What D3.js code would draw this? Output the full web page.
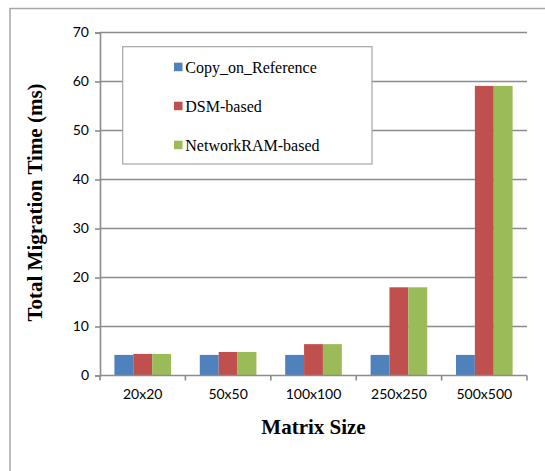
<!DOCTYPE html>
<html>
<head>
<meta charset="utf-8">
<script src="https://cdn.jsdelivr.net/npm/d3@7"></script>
<style>
  body { margin: 0; background: #fff; }
</style>
</head>
<body>
<div id="chart"></div>
<script>
var categories = ["20x20", "50x50", "100x100", "250x250", "500x500"];
var seriesNames = ["Copy_on_Reference", "DSM-based", "NetworkRAM-based"];
var copyOnRef = [4.2, 4.2, 4.2, 4.2, 4.2];
var dsmBased = [4.4, 4.8, 6.4, 18.0, 59.1];
var networkRam = [4.4, 4.8, 6.4, 18.0, 59.1];
var yTicks = [0, 10, 20, 30, 40, 50, 60, 70];

var colors = ["#4F81BD", "#C0504D", "#9BBB59"];
var values = [copyOnRef, dsmBased, networkRam];

var w = 545, h = 471;
var svg = d3.select("#chart").append("svg")
    .attr("width", w)
    .attr("height", h);

// outer frame (cut off at right and bottom)
svg.append("rect")
    .attr("x", 10).attr("y", 8.5)
    .attr("width", 560).attr("height", 500)
    .attr("fill", "none")
    .attr("stroke", "#a6a6a6")
    .attr("stroke-width", 1.5);

var x = d3.scaleBand()
    .domain(categories)
    .range([100, 527])
    .paddingInner(0.337)
    .paddingOuter(0.1685);

var xInner = d3.scaleBand()
    .domain(seriesNames)
    .range([0, x.bandwidth()]);

var y = d3.scaleLinear()
    .domain([0, 70])
    .range([375.5, 32.5]);

// gridlines
svg.append("g")
    .selectAll("line")
    .data(yTicks.slice(1))
    .enter()
    .append("line")
    .attr("x1", 100).attr("x2", 527)
    .attr("y1", d => y(d)).attr("y2", d => y(d))
    .attr("stroke", "#8c8c8c")
    .attr("stroke-width", 1.6);

// y axis
var yAxis = svg.append("g")
    .attr("transform", "translate(100,0)")
    .call(d3.axisLeft(y).tickValues(yTicks).tickSize(5).tickPadding(6));
yAxis.select(".domain").attr("stroke", "#8c8c8c").attr("stroke-width", 1.6);
yAxis.selectAll(".tick line").attr("stroke", "#8c8c8c").attr("stroke-width", 1.6);
yAxis.selectAll(".tick text")
    .style("font-family", "Lato, 'Open Sans', sans-serif")
    .style("font-size", "14px")
    .attr("fill", "#000");

// bars
var groups = svg.append("g")
    .selectAll("g")
    .data(categories)
    .enter()
    .append("g")
    .attr("transform", d => `translate(${x(d)},0)`);

groups.selectAll("rect")
    .data((c, i) => seriesNames.map((s, j) => ({ s: s, v: values[j][i], color: colors[j] })))
    .enter()
    .append("rect")
    .attr("x", d => xInner(d.s))
    .attr("width", xInner.bandwidth())
    .attr("y", d => y(d.v))
    .attr("height", d => y(0) - y(d.v))
    .attr("fill", d => d.color);

// x axis
var xAxis = svg.append("g")
    .attr("transform", `translate(0,${y(0)})`)
    .call(d3.axisBottom(x).tickSize(0).tickPadding(14));
xAxis.select(".domain").remove();
xAxis.selectAll(".tick text")
    .style("font-family", "Lato, 'Open Sans', sans-serif")
    .style("font-size", "14px")
    .attr("fill", "#000");

svg.append("line")
    .attr("x1", 100).attr("x2", 527)
    .attr("y1", y(0)).attr("y2", y(0))
    .attr("stroke", "#8c8c8c")
    .attr("stroke-width", 1.6);

var boundaries = d3.range(categories.length + 1).map(i => x.range()[0] + i * x.step());
svg.append("g")
    .selectAll("line")
    .data(boundaries)
    .enter()
    .append("line")
    .attr("x1", d => d).attr("x2", d => d)
    .attr("y1", y(0)).attr("y2", y(0) + 5)
    .attr("stroke", "#8c8c8c")
    .attr("stroke-width", 1.6);

// axis titles
svg.append("text")
    .attr("x", 313.5)
    .attr("y", 434)
    .attr("text-anchor", "middle")
    .style("font-family", "'Liberation Serif', 'Times New Roman', serif")
    .style("font-weight", "bold")
    .style("font-size", "21px")
    .text("Matrix Size");

svg.append("text")
    .attr("transform", "translate(42,202.5) rotate(-90)")
    .attr("text-anchor", "middle")
    .style("font-family", "'Liberation Serif', 'Times New Roman', serif")
    .style("font-weight", "bold")
    .style("font-size", "21px")
    .text("Total Migration Time (ms)");

// legend
svg.append("rect")
    .attr("x", 122.7).attr("y", 46.7)
    .attr("width", 249.3).attr("height", 117.3)
    .attr("fill", "#fff")
    .attr("stroke", "#a6a6a6")
    .attr("stroke-width", 1.2);

var legend = svg.append("g")
    .selectAll("g")
    .data(seriesNames)
    .enter()
    .append("g")
    .attr("transform", (d, i) => `translate(174,${67 + i * 39})`);

legend.append("rect")
    .attr("x", 0).attr("y", -4.3)
    .attr("width", 8.5).attr("height", 8.5)
    .attr("fill", (d, i) => colors[i]);

legend.append("text")
    .attr("x", 11.3)
    .attr("y", 5.5)
    .style("font-family", "'Liberation Serif', 'Times New Roman', serif")
    .style("font-size", "16px")
    .text(d => d);
</script>
</body>
</html>
